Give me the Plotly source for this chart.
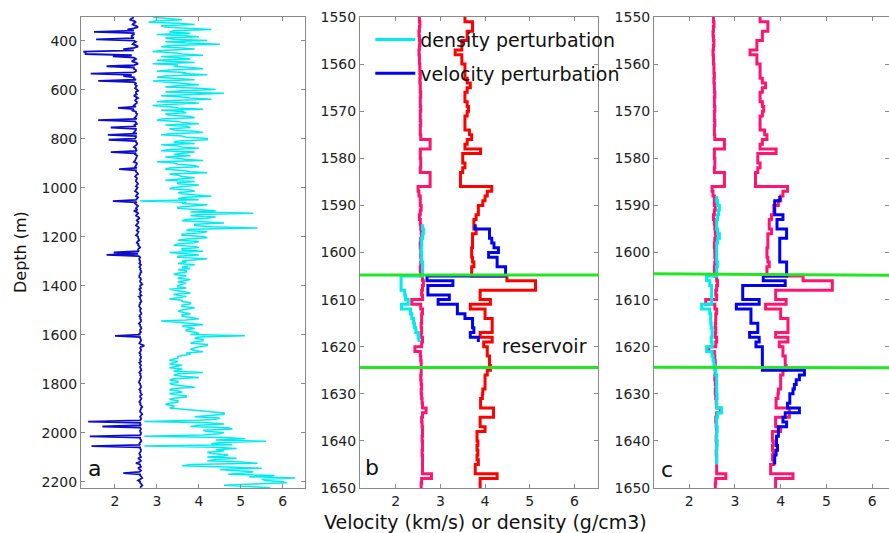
import plotly.graph_objects as go

# ---------------- Panel a : full well logs (5 m samples from 304 m) ----------------
depth_a = list(range(304, 2225, 5))
velocity_a = [
    2.9, 3.3, 3.6, 3.0, 2.8, 3.5, 3.9, 3.1, 3.2, 3.7, 4.3, 3.4, 3.3, 3.8, 3.0, 3.6, 4.0, 3.2, 3.4, 4.2,
    3.2, 3.7, 4.5, 3.3, 3.1, 3.6, 3.9, 3.2, 2.9, 3.4, 3.6, 4.1, 3.1, 3.5, 3.8, 3.0, 3.3, 3.9, 2.9, 3.5,
    3.4, 3.8, 4.1, 3.3, 3.0, 3.7, 3.6, 4.2, 3.2, 3.0, 3.4, 3.9, 2.9, 3.3, 3.6, 4.0, 3.5, 3.2, 4.0, 4.4,
    3.6, 3.2, 4.6, 3.7, 3.1, 3.6, 3.8, 4.3, 3.3, 3.0, 4.0, 3.4, 2.9, 3.3, 3.5, 4.1, 3.1, 3.6, 3.7, 3.2,
    3.3, 3.8, 3.9, 3.1, 3.0, 3.5, 3.6, 4.0, 3.2, 3.7, 3.8, 3.3, 3.4, 3.9, 4.1, 3.3, 3.1, 3.6, 3.7, 4.2,
    4.2, 3.5, 3.4, 3.9, 3.1, 3.5, 3.6, 4.0, 3.3, 3.1, 3.9, 3.6, 3.4, 3.8, 3.2, 3.5, 3.7, 4.1, 3.0, 3.4,
    3.5, 3.9, 4.0, 3.3, 3.2, 3.6, 3.8, 4.2, 3.3, 3.5, 3.6, 3.9, 3.4, 3.2, 3.9, 3.5, 3.5, 4.0, 3.7, 3.4,
    3.3, 3.8, 3.9, 3.5, 3.6, 4.1, 4.3, 3.7, 3.5, 4.0, 2.6, 3.7, 3.6, 4.2, 3.9, 3.5, 3.5, 4.1, 4.4, 3.8,
    5.3, 4.0, 3.8, 4.4, 4.2, 3.7, 3.6, 4.1, 4.6, 3.9, 3.9, 4.3, 5.4, 3.8, 3.7, 4.2, 4.0, 3.6, 3.6, 4.1,
    4.2, 3.7, 3.5, 4.0, 3.9, 3.5, 3.4, 3.9, 4.0, 3.6, 3.6, 4.1, 3.3, 3.7, 4.0, 3.5, 3.5, 4.2, 3.8, 3.6,
    3.7, 3.5, 3.9, 3.7, 3.6, 3.8, 3.5, 3.7, 3.7, 3.5, 3.4, 3.7, 3.6, 3.5, 3.8, 3.6, 3.5, 3.7, 3.6, 3.5,
    3.5, 3.7, 3.3, 3.5, 3.6, 3.8, 3.4, 3.5, 3.7, 3.5, 3.3, 3.6, 3.6, 3.8, 3.8, 3.6, 3.6, 3.9, 3.7, 3.6,
    3.5, 3.7, 3.8, 3.6, 3.6, 3.8, 4.0, 3.7, 3.1, 3.5, 3.8, 4.1, 3.6, 3.8, 3.9, 3.7, 3.7, 3.9, 4.0, 3.8,
    5.1, 4.0, 3.9, 4.1, 4.1, 3.9, 3.8, 4.2, 4.2, 4.0, 3.9, 3.8, 3.9, 4.1, 3.7, 3.8, 3.6, 3.5, 3.5, 3.4,
    3.3, 3.5, 3.4, 3.3, 3.6, 3.4, 3.3, 3.6, 3.5, 3.4, 4.1, 3.5, 3.4, 3.6, 4.0, 3.4, 3.3, 3.5, 3.5, 3.3,
    3.4, 3.6, 3.9, 3.4, 3.3, 3.5, 3.6, 3.3, 3.4, 3.7, 3.7, 3.4, 3.3, 3.5, 3.5, 3.3, 3.2, 3.4, 3.4, 3.3,
    3.6, 4.0, 4.3, 4.6, 4.6, 4.1, 3.9, 4.5, 4.4, 4.0, 2.7, 4.2, 4.6, 4.0, 3.8, 4.7, 4.8, 4.1, 4.2, 4.6,
    4.5, 4.1, 2.7, 4.6, 5.1, 4.4, 5.6, 4.5, 4.3, 4.8, 2.7, 4.4, 4.9, 4.4, 4.6, 4.2, 4.3, 4.7, 4.6, 4.2,
    4.9, 4.4, 4.2, 5.0, 5.4, 3.8, 3.6, 4.6, 5.5, 4.5, 4.8, 5.3, 5.1, 4.7, 5.8, 5.2, 6.3, 5.5, 5.6, 6.0,
    6.1, 5.3, 4.6, 5.2, 5.7,
]

density_a = [
    2.45, 2.4, 2.35, 2.45, 2.5, 2.44, 2.42, 2.5, 2.55, 2.45, 2.3, 2.45, 1.5, 2.45, 2.45, 2.4, 2.4, 2.45, 1.55, 2.45,
    2.5, 2.45, 2.42, 2.5, 2.55, 2.45, 2.2, 2.45, 1.25, 1.3, 1.3, 2.4, 1.95, 2.45, 2.5, 2.45, 2.4, 2.5, 2.55, 2.45,
    1.8, 2.45, 2.45, 2.5, 2.5, 2.45, 1.42, 2.4, 2.2, 2.45, 2.45, 2.5, 1.6, 2.45, 2.5, 2.48, 2.52, 2.5, 2.48, 2.52,
    2.55, 2.5, 2.5, 2.52, 2.45, 2.5, 2.55, 2.5, 2.48, 2.52, 2.52, 2.48, 2.45, 2.5, 2.07, 2.45, 2.4, 2.5, 2.5, 2.53,
    2.52, 2.5, 2.47, 2.52, 1.6, 2.48, 2.5, 2.52, 2.45, 2.5, 1.9, 2.5, 2.5, 2.48, 2.45, 2.52, 1.83, 2.5, 2.5, 2.48,
    1.85, 2.5, 2.5, 2.53, 2.52, 2.48, 2.45, 2.5, 2.5, 2.52, 1.9, 2.5, 2.48, 2.53, 2.52, 2.5, 2.5, 2.48, 2.45, 2.52,
    2.52, 2.5, 2.48, 2.52, 2.1, 2.5, 2.5, 2.53, 2.55, 2.5, 2.48, 2.52, 2.52, 2.5, 2.5, 2.53, 2.55, 2.52, 2.5, 2.54,
    2.52, 2.5, 2.48, 2.53, 2.55, 2.52, 2.5, 2.55, 2.52, 2.5, 1.95, 2.52, 2.48, 2.53, 2.55, 2.52, 2.5, 2.54, 2.45, 2.52,
    2.55, 2.52, 2.5, 2.56, 2.58, 2.54, 2.52, 2.56, 2.55, 2.52, 2.5, 2.55, 2.57, 2.54, 2.52, 2.56, 2.55, 2.53, 2.5, 2.55,
    2.55, 2.57, 2.58, 2.54, 2.52, 2.56, 2.55, 2.58, 2.6, 2.56, 2.55, 2.57, 1.97, 2.55, 1.8, 2.57, 2.6, 2.58, 2.58, 2.6,
    2.6, 2.58, 2.62, 2.6, 2.58, 2.61, 2.6, 2.62, 2.63, 2.6, 2.6, 2.58, 2.58, 2.61, 2.62, 2.6, 2.6, 2.63, 2.65, 2.6,
    2.6, 2.62, 2.58, 2.6, 2.62, 2.6, 2.6, 2.63, 2.57, 2.6, 2.6, 2.62, 2.63, 2.6, 2.6, 2.58, 2.58, 2.6, 2.62, 2.6,
    2.6, 2.62, 2.63, 2.6, 2.58, 2.61, 2.6, 2.62, 2.62, 2.6, 2.57, 2.6, 2.6, 2.62, 2.63, 2.6, 2.6, 2.62, 2.58, 2.6,
    2.0, 2.6, 2.6, 2.62, 2.62, 2.6, 2.58, 2.62, 2.7, 2.62, 2.6, 2.62, 2.62, 2.6, 2.58, 2.61, 2.6, 2.62, 2.62, 2.6,
    2.6, 2.62, 2.58, 2.6, 2.62, 2.6, 2.6, 2.62, 2.63, 2.6, 2.58, 2.61, 2.6, 2.62, 2.62, 2.6, 2.6, 2.58, 2.57, 2.6,
    2.6, 2.62, 2.62, 2.6, 2.58, 2.61, 2.6, 2.62, 2.64, 2.6, 2.6, 2.63, 2.62, 2.6, 2.58, 2.61, 2.6, 2.63, 2.65, 2.62,
    2.62, 2.6, 2.6, 2.63, 2.65, 2.62, 2.6, 2.62, 2.62, 2.6, 1.36, 2.6, 2.6, 2.62, 1.7, 2.6, 2.62, 2.6, 2.6, 2.62,
    2.62, 2.6, 1.4, 2.6, 2.6, 2.62, 2.63, 2.6, 2.58, 2.6, 1.44, 2.6, 2.6, 2.62, 2.62, 2.6, 2.58, 2.6, 2.6, 2.62,
    2.55, 2.6, 2.62, 2.58, 2.5, 2.6, 2.6, 2.62, 2.55, 2.6, 2.62, 2.58, 2.2, 2.6, 2.6, 2.63, 2.65, 2.6, 2.55, 2.6,
    2.6, 2.63, 2.65, 2.62, 2.6,
]

# ---------------- Panels b, c : zoom 1550-1650 m, 1 m blocks ----------------
block_depth = list(range(1550, 1650))

velocity_log = [
    3.55, 3.72, 3.72, 3.6, 3.6, 3.48, 3.48, 3.33, 3.48, 3.48,
    3.55, 3.55, 3.55, 3.6, 3.67, 3.6, 3.55, 3.55, 3.6, 3.63,
    3.6, 3.55, 3.55, 3.55, 3.65, 3.7, 3.6, 3.55, 3.9, 3.5,
    3.5, 3.55, 3.5, 3.45, 3.45, 3.45, 4.15, 4.05, 4.0, 3.95,
    3.85, 3.85, 3.8, 3.75, 3.75, 3.8, 3.72, 3.72, 3.72, 3.7,
    3.7, 3.72, 3.75, 3.7, 3.7, 4.49, 5.13, 5.13, 3.89, 3.89,
    4.12, 3.67, 4.0, 4.0, 4.16, 4.16, 4.16, 3.89, 4.16, 3.97,
    4.05, 4.05, 4.1, 4.1, 4.12, 4.05, 4.0, 4.0, 4.0, 3.95,
    3.94, 3.9, 3.9, 4.19, 4.19, 3.89, 3.89, 4.0, 3.82, 3.82,
    3.84, 3.82, 3.84, 3.82, 3.85, 3.78, 3.78, 4.27, 3.89, 3.89,
]

density_log = [
    2.53, 2.54, 2.53, 2.52, 2.53, 2.54, 2.53, 2.52, 2.53, 2.53,
    2.54, 2.54, 2.55, 2.54, 2.55, 2.55, 2.56, 2.55, 2.55, 2.56,
    2.55, 2.55, 2.56, 2.55, 2.55, 2.56, 2.77, 2.77, 2.55, 2.55,
    2.56, 2.56, 2.55, 2.77, 2.77, 2.77, 2.5, 2.52, 2.55, 2.55,
    2.57, 2.55, 2.53, 2.55, 2.56, 2.57, 2.58, 2.56, 2.55, 2.56,
    2.56, 2.57, 2.56, 2.55, 2.56, 2.6, 2.62, 2.6, 2.58, 2.6,
    2.36, 2.56, 2.6, 2.58, 2.58, 2.57, 2.58, 2.57, 2.6, 2.58,
    2.43, 2.55, 2.56, 2.57, 2.57, 2.57, 2.56, 2.57, 2.58, 2.57,
    2.58, 2.59, 2.6, 2.68, 2.6, 2.58, 2.59, 2.6, 2.6, 2.59,
    2.6, 2.6, 2.59, 2.6, 2.6, 2.6, 2.6, 2.8, 2.58, 2.57,
]

pert_depth_b = list(range(1594, 1619))
density_pert_b = [
    2.6, 2.62, 2.6, 2.58, 2.58, 2.57, 2.58, 2.58, 2.6, 2.6,
    2.6, 2.12, 2.12, 2.12, 2.2, 2.22, 2.28, 2.13, 2.33, 2.36,
    2.4, 2.42, 2.45, 2.5, 2.52,
]
velocity_pert_b = [
    3.78, 4.1, 4.1, 4.15, 4.2, 4.3, 4.08, 4.27, 4.27, 4.46,
    4.46, 2.7, 3.28, 2.72, 2.72, 3.2, 2.95, 3.38, 3.38, 3.55,
    3.72, 3.72, 3.75, 3.67, 3.85,
]

pert_depth_c = list(range(1588, 1645))
density_pert_c = [
    2.6, 2.62, 2.66, 2.64, 2.62, 2.6, 2.6, 2.62, 2.66, 2.62,
    2.6, 2.6, 2.6, 2.6, 2.62, 2.6, 2.6, 2.38, 2.45, 2.49,
    2.49, 2.49, 2.49, 2.27, 2.45, 2.47, 2.47, 2.48, 2.5, 2.5,
    2.48, 2.5, 2.38, 2.5, 2.52, 2.54, 2.56, 2.58, 2.6, 2.6,
    2.6, 2.6, 2.61, 2.6, 2.6, 2.71, 2.62, 2.6, 2.6, 2.61,
    2.6, 2.6, 2.61, 2.6, 2.6, 2.6, 2.6,
]
velocity_pert_c = [
    3.98, 3.87, 3.87, 3.87, 4.05, 3.92, 3.92, 4.13, 4.13, 3.98,
    3.98, 3.98, 3.98, 3.98, 4.13, 4.13, 4.13, 3.62, 4.1, 3.17,
    3.17, 3.17, 3.53, 3.03, 3.35, 3.35, 3.35, 3.5, 3.5, 3.32,
    3.53, 3.46, 3.6, 3.6, 3.6, 3.6, 3.6, 4.52, 4.41, 4.34,
    4.3, 4.27, 4.2, 4.2, 4.15, 4.41, 4.1, 4.05, 4.13, 3.95,
    3.95, 3.91, 3.91, 3.93, 3.9, 3.87, 3.87,
]

reservoir_top_b = [1604.8, 1604.8]
reservoir_bottom_b = [1624.4, 1624.4]
reservoir_top_c = [1604.5, 1604.85]
reservoir_bottom_c = [1624.35, 1624.5]
green_x = [1.0, 6.6]

x_ticks = [2, 3, 4, 5, 6]
y_ticks_a = list(range(400, 2201, 200))
y_ticks_bc = list(range(1550, 1651, 10))

CYAN = "#00ecf0"
BLUE = "#0000f5"
DARKBLUE = "#0c0cd2"
PINK = "#ff1470"
RED = "#ff0000"
GREEN = "#22e622"


def steps(depths, values, block=1):
    """Close the last block (each value holds for one block)."""
    return list(values) + [values[-1]], list(depths) + [depths[-1] + block]


fig = go.Figure()

# panel a
fig.add_trace(go.Scatter(x=velocity_a, y=depth_a, mode="lines",
                         line=dict(color=CYAN, width=1.5), showlegend=False,
                         xaxis="x", yaxis="y"))
fig.add_trace(go.Scatter(x=density_a, y=depth_a, mode="lines",
                         line=dict(color=DARKBLUE, width=1.8), showlegend=False,
                         xaxis="x", yaxis="y"))

# panel b
for vals, col in ((density_log, PINK), (velocity_log, RED)):
    xs, ys = steps(block_depth, vals)
    fig.add_trace(go.Scatter(x=xs, y=ys, mode="lines", line=dict(color=col, width=3, shape="vh"),
                             showlegend=False, xaxis="x2", yaxis="y2"))
xs, ys = steps(pert_depth_b, density_pert_b)
fig.add_trace(go.Scatter(x=xs, y=ys, mode="lines", name="density perturbation",
                         line=dict(color=CYAN, width=3, shape="vh"), legendgroup="g1",
                         xaxis="x2", yaxis="y2"))
xs, ys = steps(pert_depth_b, velocity_pert_b)
fig.add_trace(go.Scatter(x=xs, y=ys, mode="lines", name="velocity perturbation",
                         line=dict(color=BLUE, width=3, shape="vh"), legendgroup="g2",
                         xaxis="x2", yaxis="y2"))
for yy in (reservoir_top_b, reservoir_bottom_b):
    fig.add_trace(go.Scatter(x=green_x, y=yy, mode="lines", line=dict(color=GREEN, width=3),
                             showlegend=False, xaxis="x2", yaxis="y2"))

# panel c
for vals in (density_log, velocity_log):
    xs, ys = steps(block_depth, vals)
    fig.add_trace(go.Scatter(x=xs, y=ys, mode="lines", line=dict(color=PINK, width=3, shape="vh"),
                             showlegend=False, xaxis="x3", yaxis="y3"))
xs, ys = steps(pert_depth_c, density_pert_c)
fig.add_trace(go.Scatter(x=xs, y=ys, mode="lines", line=dict(color=CYAN, width=3, shape="vh"),
                         showlegend=False, xaxis="x3", yaxis="y3"))
xs, ys = steps(pert_depth_c, velocity_pert_c)
fig.add_trace(go.Scatter(x=xs, y=ys, mode="lines", line=dict(color=BLUE, width=3, shape="vh"),
                         showlegend=False, xaxis="x3", yaxis="y3"))
for yy in (reservoir_top_c, reservoir_bottom_c):
    fig.add_trace(go.Scatter(x=green_x, y=yy, mode="lines", line=dict(color=GREEN, width=3),
                             showlegend=False, xaxis="x3", yaxis="y3"))

FONT = "DejaVu Sans"
axis_style = dict(showline=True, linecolor="#8a8a8a", linewidth=1, mirror="ticks",
                  ticks="inside", ticklen=4, tickcolor="#8a8a8a", showgrid=False,
                  zeroline=False, tickfont=dict(family=FONT, size=14, color="#222222"))

fig.update_layout(
    width=889, height=533,
    margin=dict(l=81, r=0, t=17, b=45),
    paper_bgcolor="white", plot_bgcolor="white",
    xaxis=dict(domain=[0, 0.2772], range=[1.19, 6.53], tickvals=x_ticks, anchor="y", **axis_style),
    xaxis2=dict(domain=[0.3453, 0.6399], range=[1.2, 6.53], tickvals=x_ticks, anchor="y2", **axis_style),
    xaxis3=dict(domain=[0.7092, 1.0], range=[1.23, 6.37], tickvals=x_ticks, anchor="y3", **axis_style),
    yaxis=dict(domain=[0, 1], range=[2225, 303], tickvals=y_ticks_a, anchor="x", **axis_style),
    yaxis2=dict(domain=[0, 1], range=[1650, 1550], tickvals=y_ticks_bc, anchor="x2", **axis_style),
    yaxis3=dict(domain=[0, 1], range=[1650, 1550], tickvals=y_ticks_bc, anchor="x3", **axis_style),
    legend=dict(x=0.358, y=0.992, xanchor="left", yanchor="top", bgcolor="rgba(0,0,0,0)",
                font=dict(family=FONT, size=19, color="#111111"), traceorder="grouped",
                tracegroupgap=6, itemwidth=40),
    showlegend=True,
    annotations=[
        dict(text="a", x=1.52, y=2144, xref="x", yref="y", showarrow=False,
             font=dict(family=FONT, size=22, color="#111111")),
        dict(text="b", x=1.47, y=1645.6, xref="x2", yref="y2", showarrow=False,
             font=dict(family=FONT, size=22, color="#111111")),
        dict(text="c", x=1.51, y=1646, xref="x3", yref="y3", showarrow=False,
             font=dict(family=FONT, size=22, color="#111111")),
        dict(text="reservoir", x=5.33, y=1619.9, xref="x2", yref="y2", showarrow=False,
             font=dict(family=FONT, size=19, color="#111111")),
        dict(text="Velocity (km/s) or density (g/cm3)", x=0.501, y=-0.072, xref="paper",
             yref="paper", showarrow=False, xanchor="center", yanchor="middle",
             font=dict(family=FONT, size=19, color="#111111")),
        dict(text="Depth (m)", x=-0.0755, y=0.501, xref="paper", yref="paper",
             showarrow=False, textangle=-90, xanchor="center", yanchor="middle",
             font=dict(family=FONT, size=16, color="#111111")),
    ],
)

fig.write_html("out.html", config={"displayModeBar": False},
               post_script="document.body.style.margin='0px';")
